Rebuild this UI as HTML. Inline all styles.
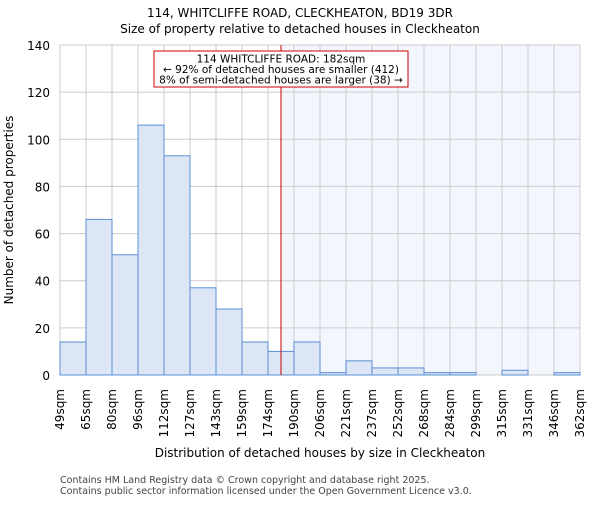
<!DOCTYPE html>
<html><head><meta charset="utf-8"><style>body{margin:0;background:#fff}svg text{font-family:"DejaVu Sans","Liberation Sans",sans-serif}</style></head>
<body>
<svg id="c" width="600" height="500" viewBox="0 0 600 500" xmlns="http://www.w3.org/2000/svg">
<text x="300" y="17" text-anchor="middle" font-size="12">114, WHITCLIFFE ROAD, CLECKHEATON, BD19 3DR</text>
<text x="300" y="33" text-anchor="middle" font-size="12">Size of property relative to detached houses in Cleckheaton</text>
<g id="plot"></g>
<text x="320" y="457" text-anchor="middle" font-size="12">Distribution of detached houses by size in Cleckheaton</text>
<text transform="translate(13,210) rotate(-90)" text-anchor="middle" font-size="12">Number of detached properties</text>
<text x="60" y="483" font-size="9.5" fill="#444">Contains HM Land Registry data © Crown copyright and database right 2025.</text>
<text x="60" y="494" font-size="9.5" fill="#444">Contains public sector information licensed under the Open Government Licence v3.0.</text>
</svg>
<script>
const binLabels=["49sqm","65sqm","80sqm","96sqm","112sqm","127sqm","143sqm","159sqm","174sqm","190sqm","206sqm","221sqm","237sqm","252sqm","268sqm","284sqm","299sqm","315sqm","331sqm","346sqm","362sqm"];
const binEdges=[49,65,80,96,112,127,143,159,174,190,206,221,237,252,268,284,299,315,331,346,362];
const counts=[14,66,51,106,93,37,28,14,10,14,1,6,3,3,1,1,0,2,0,1];
const yTicks=[0,20,40,60,80,100,120,140];
const subjectSize=182;
const NS="http://www.w3.org/2000/svg";
const g=document.getElementById('plot');
const X0=60,X1=580,Y0=375,Y1=45,YMAX=140;
const n=counts.length, bw=(X1-X0)/n;
function xIdx(i){return X0+i*bw;}
function xVal(v){let i=0;while(i<binEdges.length-2&&v>binEdges[i+1])i++;return xIdx(i)+(v-binEdges[i])/(binEdges[i+1]-binEdges[i])*bw;}
function y(v){return Y0-(v/YMAX)*(Y0-Y1);}
function el(t,a){const e=document.createElementNS(NS,t);for(const k in a)e.setAttribute(k,a[k]);g.appendChild(e);return e;}
const sx=xVal(subjectSize);
let e=el('rect',{x:sx,y:Y1,width:X1-sx,height:Y0-Y1,fill:'#f3f6fd'});


yTicks.forEach(t=>{let l=el('line',{x1:X0,x2:X1,y1:y(t),y2:y(t),stroke:'#ccc','stroke-width':1});


let tx=el('text',{x:X0-10,y:y(t)+5,'text-anchor':'end','font-size':12});tx.textContent=t;

});
binLabels.forEach((lb,i)=>{const x=xIdx(i);let l=el('line',{x1:x,x2:x,y1:Y1,y2:Y0,stroke:'#ccc','stroke-width':1});


let tx=el('text',{transform:`translate(${x+4},389) rotate(-90)`,'text-anchor':'end','font-size':12});tx.textContent=lb;

});
counts.forEach((c,i)=>{let r=el('rect',{x:xIdx(i),y:y(c),width:bw,height:Y0-y(c),fill:'#dce6f5',stroke:'#5b8fd6','stroke-width':1});

});
let rl=el('line',{x1:sx,x2:sx,y1:Y1,y2:Y0,stroke:'#cc0000','stroke-width':1});


let bx=el('rect',{x:154,y:51,width:254,height:36,fill:'#fff',stroke:'#cc0000','stroke-width':1});


["114 WHITCLIFFE ROAD: 182sqm","← 92% of detached houses are smaller (412)","8% of semi-detached houses are larger (38) →"].forEach((s,i)=>{let t=el('text',{x:281,y:62.5+i*10.5,'text-anchor':'middle','font-size':10.5});t.textContent=s;

});
</script>
</body></html>
